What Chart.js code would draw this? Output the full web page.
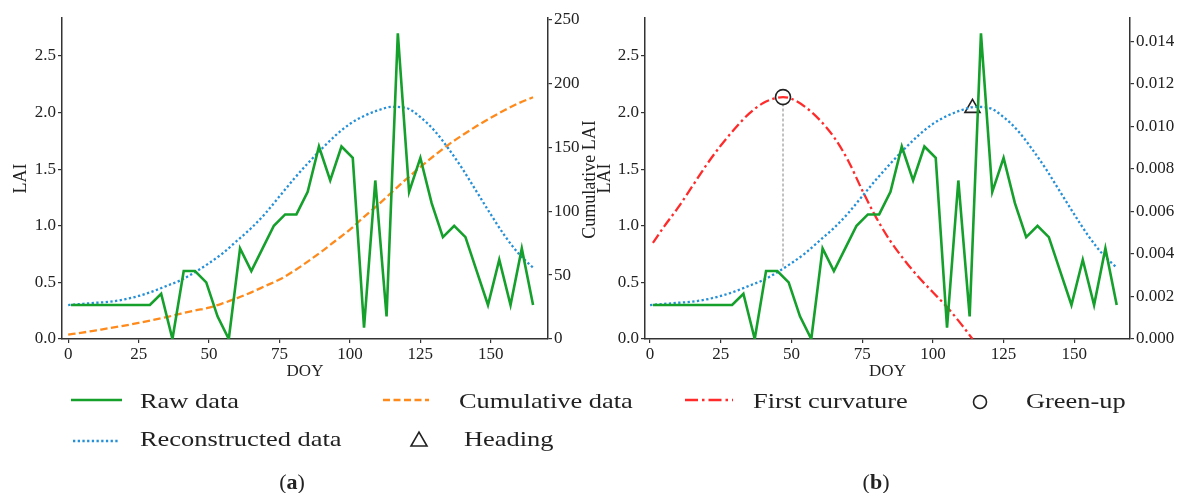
<!DOCTYPE html>
<html><head><meta charset="utf-8">
<script src="https://cdn.jsdelivr.net/npm/chart.js@4.4.1/dist/chart.umd.min.js"></script>
<style>
html,body{margin:0;padding:0;background:#fff;width:1181px;height:493px;overflow:hidden;position:relative;font-family:'Liberation Serif',serif;color:#222}
canvas{position:absolute;top:0}
#c1{left:0}
#c2{left:575px}
svg{position:absolute;left:0;top:0}
.leg{position:absolute;font-size:22px;line-height:22px;white-space:nowrap;transform:scaleX(1.2);transform-origin:0 50%}
.cap{position:absolute;font-size:22px;line-height:22px;white-space:nowrap;transform:translateX(-50%)}
</style></head><body>
<canvas id="c1" width="600" height="385"></canvas>
<canvas id="c2" width="606" height="385"></canvas>
<svg width="1181" height="493">
  <line x1="71" y1="400" x2="122" y2="400" stroke="#15a02c" stroke-width="2.6"/>
  <line x1="383" y1="400" x2="429" y2="400" stroke="#ff8a1c" stroke-width="2.4" stroke-dasharray="7,3.5"/>
  <line x1="685" y1="400" x2="733" y2="400" stroke="#ff2b2b" stroke-width="2.4" stroke-dasharray="13,4,2.5,4"/>
  <circle cx="980" cy="402" r="6.5" fill="none" stroke="#222" stroke-width="1.6"/>
  <line x1="73" y1="441" x2="120" y2="441" stroke="#2590d8" stroke-width="2.3" stroke-dasharray="2.3,2.4"/>
  <polygon points="411,446 427,446 419,432" fill="none" stroke="#222" stroke-width="1.6"/>
</svg>
<div class="leg" style="left:140px;top:390px">Raw data</div>
<div class="leg" style="left:459px;top:390px">Cumulative data</div>
<div class="leg" style="left:753px;top:390px">First curvature</div>
<div class="leg" style="left:1026px;top:390px">Green-up</div>
<div class="leg" style="left:140px;top:428px">Reconstructed data</div>
<div class="leg" style="left:464px;top:428px">Heading</div>
<div class="cap" style="left:292px;top:471px">(<b>a</b>)</div>
<div class="cap" style="left:876px;top:471px">(<b>b</b>)</div>
<script>
// ---------- data ----------
const rawDOY = [1,5,9,13,17,21,25,29,33,37,41,45,49,53,57,61,65,69,73,77,81,85,89,93,97,101,105,109,113,117,121,125,129,133,137,141,145,149,153,157,161,165];
const rawLAI = [0.3,0.3,0.3,0.3,0.3,0.3,0.3,0.3,0.4,0.0,0.6,0.6,0.5,0.2,0.0,0.8,0.6,0.8,1.0,1.1,1.1,1.3,1.7,1.4,1.7,1.6,0.1,1.4,0.2,2.7,1.3,1.6,1.2,0.9,1.0,0.9,0.6,0.3,0.7,0.3,0.8,0.3];

const reconDOY = [0,5,10,15,20,25,30,35,40,45,50,55,60,65,70,75,80,85,90,95,100,105,110,115,120,125,130,135,140,145,150,155,160,165];
const reconLAI = [0.30,0.31,0.32,0.33,0.35,0.38,0.42,0.47,0.52,0.59,0.67,0.76,0.87,0.98,1.11,1.26,1.41,1.55,1.68,1.80,1.90,1.97,2.02,2.05,2.04,1.96,1.84,1.68,1.50,1.30,1.10,0.91,0.75,0.63];

const cumDOY = [0,5,10,15,20,25,30,35,40,45,50,55,60,65,70,75,80,85,90,95,100,105,110,115,120,125,130,135,140,145,150,155,160,165];
const cumLAI = [3.5,5,6.8,8.6,10.5,12.6,14.8,17.2,19.8,22.3,24.5,28,32,36.5,41.5,46.5,53,60.5,68.5,77,85.5,95.5,105,115,125,134.5,143.5,152,159.5,166.5,173,179,184.5,189];

const curvDOY = [1,5,10,15,20,25,30,35,40,45,47,50,55,60,65,70,75,80,85,90,95,100,105,110,114];
const curvVal = [0.00452,0.0053,0.0062,0.0072,0.0082,0.0091,0.0099,0.0106,0.0111,0.01135,0.01138,0.0113,0.0109,0.0103,0.0095,0.0084,0.0070,0.0057,0.0046,0.0037,0.0029,0.0022,0.0015,0.0007,0.0];

const greenUpDOY = [47];
const greenUpVal = [0.01138];
const guideDOY = [47, 47];
const guideLAI = [0.64, 2.09];
const headingDOY = [114];
const headingLAI = [2.04];

// tick values
const doyTicks = [0, 25, 50, 75, 100, 125, 150];
const laiTicks = [0.0, 0.5, 1.0, 1.5, 2.0, 2.5];
const cumTicks = [0, 50, 100, 150, 200, 250];
const curvTicks = [0.000, 0.002, 0.004, 0.006, 0.008, 0.010, 0.012, 0.014];

// ---------- helpers ----------
const pts = (xs, ys) => xs.map((x, i) => ({x, y: ys[i]}));
const AX = '#333';
const GREEN = '#15a02c', BLUE = '#2590d8', ORANGE = '#ff8a1c', RED = '#ff2b2b';
Chart.defaults.font.family = "'Liberation Serif', serif";
Chart.defaults.color = '#222';

function baseAxis(tickVals, dec) {
  return {
    type: 'linear',
    grid: {display: true, drawOnChartArea: false, drawTicks: true, tickLength: 4, color: AX, lineWidth: 1.2},
    border: {display: true, color: AX, width: 1.5},
    afterBuildTicks(s) { s.ticks = tickVals.map(v => ({value: v})); },
    ticks: {color: '#222', font: {size: 17}, padding: 2, maxRotation: 0, autoSkip: false,
            callback: v => v.toFixed(dec)}
  };
}
function xAxis(min, max) {
  const o = baseAxis(doyTicks, 0);
  Object.assign(o, {
    position: 'bottom', min, max,
    title: {display: true, text: 'DOY', color: '#222', font: {size: 17}, padding: {top: 0, bottom: 3}},
    afterFit(s) { s.height = 46; }
  });
  o.ticks.padding = 1;
  return o;
}
function yAxis(pos, min, max, tickVals, dec, width, title, tpad) {
  const o = baseAxis(tickVals, dec);
  Object.assign(o, {position: pos, min, max, afterFit(s) { s.width = width; }});
  if (title) o.title = {display: true, text: title, color: '#222', font: {size: 18}, padding: {top: tpad, bottom: 0}};
  return o;
}

const rawDS = () => ({data: pts(rawDOY, rawLAI), yAxisID: 'y', borderColor: GREEN, borderWidth: 2.6, pointRadius: 0, tension: 0, order: 1});
const reconDS = () => ({data: pts(reconDOY, reconLAI), yAxisID: 'y', borderColor: BLUE, borderWidth: 2.3, borderDash: [2.3, 2.4], pointRadius: 0, cubicInterpolationMode: 'monotone', order: 2});

const cumTitle = {
  id: 'cumTitle',
  afterDraw(chart) {
    const c = chart.ctx;
    c.save();
    c.translate(590, (chart.chartArea.top + chart.chartArea.bottom) / 2 + 1);
    c.rotate(-Math.PI / 2);
    c.font = "18px 'Liberation Serif', serif";
    c.fillStyle = '#222';
    c.textAlign = 'center';
    c.textBaseline = 'middle';
    c.fillText('Cumulative LAI', 0, 0);
    c.restore();
  }
};

const common = {
  responsive: false, animation: false, devicePixelRatio: 1,
  plugins: {legend: {display: false}, tooltip: {enabled: false}},
  events: []
};

new Chart(document.getElementById('c1'), {
  type: 'line',
  data: {datasets: [
    rawDS(), reconDS(),
    {data: pts(cumDOY, cumLAI), yAxisID: 'y1', borderColor: ORANGE, borderWidth: 2.3, borderDash: [7.4, 3.4], pointRadius: 0, cubicInterpolationMode: 'monotone', order: 3}
  ]},
  options: Object.assign({}, common, {
    layout: {padding: {top: 18, left: 0, right: 0, bottom: 0}},
    scales: {
      x: xAxis(-2.2, 170.3),
      y: yAxis('left', 0, 2.835, laiTicks, 1, 62, 'LAI', 10),
      y1: yAxis('right', 0, 251, cumTicks, 0, 52, null, 0)
    }
  }),
  plugins: [cumTitle]
});

new Chart(document.getElementById('c2'), {
  type: 'line',
  data: {datasets: [
    rawDS(), reconDS(),
    {data: pts(curvDOY, curvVal), yAxisID: 'y1', borderColor: RED, borderWidth: 2.3, borderDash: [10, 3.5, 2.5, 3.5], pointRadius: 0, cubicInterpolationMode: 'monotone', order: 3},
    {data: pts(guideDOY, guideLAI), yAxisID: 'y', borderColor: '#9a9a9a', borderWidth: 1.2, borderDash: [3, 2], pointRadius: 0, order: 4},
    {data: pts(greenUpDOY, greenUpVal), yAxisID: 'y1', showLine: false, pointStyle: 'circle', pointRadius: 7.5, pointBorderColor: '#222', pointBackgroundColor: 'rgba(0,0,0,0)', pointBorderWidth: 1.6, order: 0},
    {data: pts(headingDOY, headingLAI), yAxisID: 'y', showLine: false, pointStyle: 'triangle', pointRadius: 8.7, pointBorderColor: '#222', pointBackgroundColor: 'rgba(0,0,0,0)', pointBorderWidth: 1.6, order: 5}
  ]},
  options: Object.assign({}, common, {
    layout: {padding: {top: 18, left: 0, right: 0, bottom: 0}},
    scales: {
      x: xAxis(-1.8, 169.7),
      y: yAxis('left', 0, 2.835, laiTicks, 1, 70, 'LAI', 19),
      y1: yAxis('right', 0, 0.0151, curvTicks, 3, 51, null, 0)
    }
  })
});
</script>
</body></html>
